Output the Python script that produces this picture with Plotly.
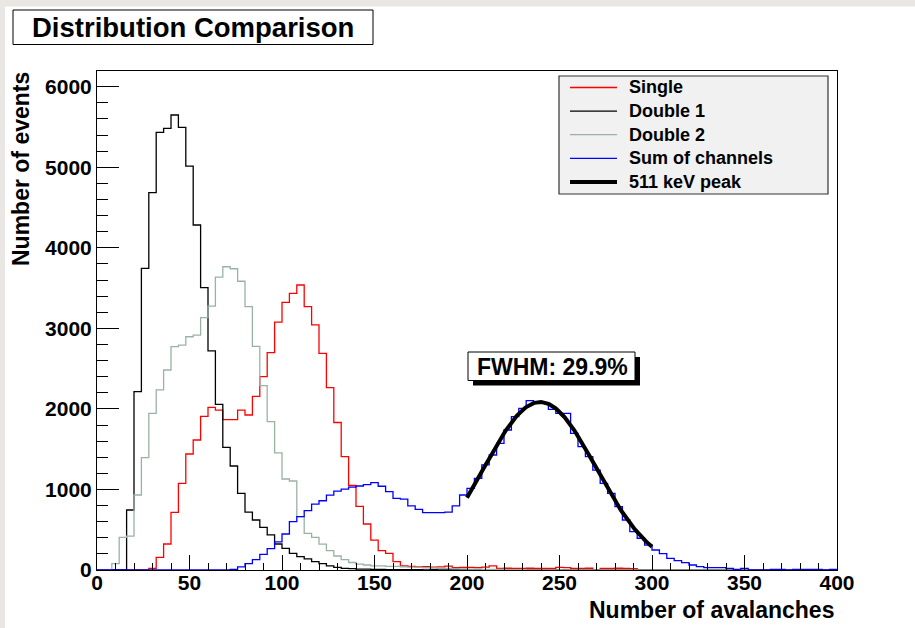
import numpy as np
import plotly.graph_objects as go

# ---- histogram binning: 100 bins of width 4 from 0 to 400 ----
x_min, x_max, n_bins = 0, 400, 100
bin_edges = np.linspace(x_min, x_max, n_bins + 1)

# ---- bin contents (events per bin) ----
single = [
    0, 0, 0, 0, 0, 0, 0, 20, 157, 323,
    716, 1076, 1440, 1614, 1908, 2020, 1986, 1866, 1866, 1986,
    1924, 2156, 2400, 2698, 3077, 3323, 3435, 3538, 3269, 3042,
    2690, 2265, 1831, 1407, 1049, 790, 571, 372, 240, 207,
    103, 50, 45, 40, 42, 35, 38, 48, 30, 32,
    33, 30, 35, 50, 20, 22, 20, 21, 22, 20,
    21, 20, 33, 30, 21, 20, 22, 0, 20, 21,
    22, 20, 18, 0, 0, 0, 0, 0, 0, 0,
    0, 0, 0, 0, 0, 0, 0, 0, 0, 0,
    0, 0, 0, 0, 0, 0, 0, 0, 0, 0,
]

double_1 = [
    0, 0, 0, 0, 745, 2214, 3745, 4685, 5433, 5482,
    5649, 5496, 5015, 4283, 3505, 2720, 2055, 1523, 1291, 952,
    718, 621, 528, 435, 323, 269, 207, 166, 137, 103,
    78, 50, 33, 21, 17, 12, 10, 8, 6, 5,
    4, 4, 3, 3, 2, 3, 2, 2, 1, 0,
    0, 0, 0, 0, 0, 0, 0, 0, 0, 0,
    0, 0, 0, 0, 0, 0, 0, 0, 0, 0,
    0, 0, 0, 0, 0, 0, 0, 0, 0, 0,
    0, 0, 0, 0, 0, 0, 0, 0, 0, 0,
    0, 0, 0, 0, 0, 0, 0, 0, 0, 0,
]

double_2 = [
    0, 0, 80, 406, 420, 931, 1394, 1945, 2235, 2483,
    2772, 2793, 2896, 2917, 3132, 3277, 3635, 3765, 3740, 3585,
    3269, 2777, 2290, 1841, 1453, 1130, 1105, 662, 455, 406,
    320, 240, 174, 128, 93, 72, 62, 50, 50, 45,
    45, 40, 35, 32, 28, 25, 22, 20, 18, 15,
    12, 10, 8, 8, 6, 5, 4, 3, 2, 2,
    0, 0, 0, 0, 0, 0, 0, 0, 0, 0,
    0, 0, 0, 0, 0, 0, 0, 0, 0, 0,
    0, 0, 0, 0, 0, 0, 0, 0, 0, 0,
    0, 0, 0, 0, 0, 0, 0, 0, 0, 0,
]

sum_of_channels = [
    0, 0, 0, 0, 0, 0, 0, 0, 0, 0,
    0, 0, 0, 0, 0, 0, 0, 0, 8, 40,
    80, 130, 195, 265, 350, 447, 600, 662, 736, 819,
    860, 930, 980, 1005, 1030, 1043, 1060, 1084, 1040, 972,
    890, 880, 795, 753, 712, 712, 712, 718, 795, 931,
    1014, 1138, 1304, 1428, 1573, 1738, 1904, 2007, 2102, 2077,
    2077, 1995, 1945, 1945, 1697, 1531, 1407, 1241, 1076, 952,
    786, 621, 476, 394, 310, 248, 203, 145, 116, 91,
    62, 41, 29, 29, 29, 21, 8, 21, 0, 0,
    0, 8, 8, 0, 8, 8, 8, 8, 0, 8,
]

# ---- Gaussian fit of the 511 keV photopeak ----
peak_amplitude = 2085
peak_mean = 239.5
fwhm_fraction = 0.299          # FWHM / mean
fit_low, fit_high = 200, 300
peak_sigma = fwhm_fraction * peak_mean / (2 * np.sqrt(2 * np.log(2)))

series = [
    ("Single", single, "#ff0000"),
    ("Double 1", double_1, "#000000"),
    ("Double 2", double_2, "#98b3a3"),
    ("Sum of channels", sum_of_channels, "#0000ff"),
]

# ---- canvas geometry (pixels) ----
W, H = 915, 628
L, R, T, B = 97, 78, 71, 58
pw, ph = W - L - R, H - T - B


def px(x):
    return (x - L) / pw


def py(y):
    return (H - B - y) / ph


FONT = "Liberation Sans, Arial, Helvetica, sans-serif"

fig = go.Figure()

for name, values, color in series:
    fig.add_trace(go.Scatter(
        x=bin_edges, y=list(values) + [values[-1]],
        mode="lines", name=name,
        line=dict(color=color, width=1.3, shape="hv"),
        showlegend=False, cliponaxis=True,
    ))

x_fit = np.linspace(fit_low, fit_high, 201)
y_fit = peak_amplitude * np.exp(-0.5 * ((x_fit - peak_mean) / peak_sigma) ** 2)
fig.add_trace(go.Scatter(
    x=x_fit, y=y_fit, mode="lines", name="511 keV peak",
    line=dict(color="#000000", width=4), showlegend=False,
))

shapes = []
annotations = []

# light grey strips along the canvas edges
strip = "#e9e6e3"
shapes.append(dict(type="rect", xref="paper", yref="paper", x0=px(0), x1=px(W),
                   y0=py(0), y1=py(6.5), fillcolor=strip, line=dict(width=0), layer="above"))
shapes.append(dict(type="rect", xref="paper", yref="paper", x0=px(0), x1=px(5),
                   y0=py(0), y1=py(H), fillcolor=strip, line=dict(width=0), layer="above"))

# title box
shapes.append(dict(type="rect", xref="paper", yref="paper", x0=px(13), x1=px(373),
                   y0=py(10), y1=py(44.5), fillcolor="white",
                   line=dict(color="black", width=1), layer="above"))
annotations.append(dict(xref="paper", yref="paper", x=px(193), y=py(27.5),
                        text="Distribution Comparison", showarrow=False,
                        xanchor="center", yanchor="middle",
                        font=dict(family=FONT, size=27.5, color="black", weight="bold")))

# legend box
shapes.append(dict(type="rect", xref="paper", yref="paper", x0=px(559), x1=px(828),
                   y0=py(76), y1=py(194), fillcolor="#f1f1f1",
                   line=dict(color="#333333", width=1.2), layer="above"))
legend_rows = [(name, color, 1.3) for name, _, color in series] + [("511 keV peak", "#000000", 4)]
for i, (label, color, width) in enumerate(legend_rows):
    yc = 87.5 + i * 23.6
    shapes.append(dict(type="line", xref="paper", yref="paper", x0=px(570), x1=px(617),
                       y0=py(yc), y1=py(yc), line=dict(color=color, width=width), layer="above"))
    annotations.append(dict(xref="paper", yref="paper", x=px(627), y=py(yc),
                            text=label, showarrow=False, xanchor="left", yanchor="middle",
                            font=dict(family=FONT, size=18, color="black", weight="bold")))

# FWHM box with drop shadow
shapes.append(dict(type="rect", xref="paper", yref="paper", x0=px(473), x1=px(640),
                   y0=py(357), y1=py(385.5), fillcolor="black", line=dict(width=0), layer="above"))
shapes.append(dict(type="rect", xref="paper", yref="paper", x0=px(468), x1=px(635),
                   y0=py(352), y1=py(380.5), fillcolor="white",
                   line=dict(color="black", width=1), layer="above"))
annotations.append(dict(xref="paper", yref="paper", x=px(552), y=py(366.5),
                        text=f"FWHM: {fwhm_fraction * 100:.1f}%", showarrow=False,
                        xanchor="center", yanchor="middle",
                        font=dict(family=FONT, size=23, color="black", weight="bold")))

# axis titles
annotations.append(dict(xref="paper", yref="paper", x=px(836), y=py(610),
                        text="Number of avalanches", showarrow=False,
                        xanchor="right", yanchor="middle",
                        font=dict(family=FONT, size=23, color="black", weight="bold")))
annotations.append(dict(xref="paper", yref="paper", x=px(21), y=py(169),
                        text="Number of events", showarrow=False, textangle=-90,
                        xanchor="center", yanchor="middle",
                        font=dict(family=FONT, size=23, color="black", weight="bold")))

tick_font = dict(family=FONT, size=21, color="black", weight="bold")

fig.update_layout(
    width=W, height=H,
    margin=dict(l=L, r=R, t=T, b=B, pad=0),
    paper_bgcolor="white", plot_bgcolor="white",
    showlegend=False,
    shapes=shapes, annotations=annotations,
    xaxis=dict(
        range=[x_min, x_max], tick0=0, dtick=50,
        ticks="inside", ticklen=15, tickwidth=1, tickcolor="black",
        minor=dict(ticks="inside", ticklen=7, dtick=10, tickcolor="black", tickwidth=1),
        showline=True, linecolor="black", linewidth=1, mirror=True,
        showgrid=False, zeroline=False, tickfont=tick_font,
        ticklabelstandoff=-6,
    ),
    yaxis=dict(
        range=[0, 6195], tick0=0, dtick=1000,
        ticks="inside", ticklen=22, tickwidth=1, tickcolor="black",
        minor=dict(ticks="inside", ticklen=11, dtick=200, tickcolor="black", tickwidth=1),
        showline=True, linecolor="black", linewidth=1, mirror=True,
        showgrid=False, zeroline=False, tickfont=tick_font,
    ),
)

fig.write_html("out.html")
